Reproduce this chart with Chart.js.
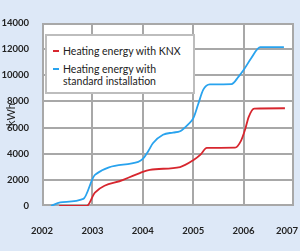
<!DOCTYPE html>
<html>
<head>
<meta charset="utf-8">
<script src="https://cdn.jsdelivr.net/npm/chart.js@4"></script>
<style>
  html, body { margin: 0; padding: 0; background: #dde8f7; }
  #wrap { position: relative; width: 300px; height: 251px; }
  #legend {
    position: absolute; left: 45px; top: 34px; width: 146px; height: 56px;
    background: #fff; border: 2px solid #bdbdbd;
    font: 10.5px Lato, sans-serif; color: #222; line-height: 12px;
  }
  .item { position: absolute; left: 16px; }
  .dash { position: absolute; left: -10px; top: 5px; width: 6px; height: 2px; }
</style>
</head>
<body>
<div id="wrap">
  <canvas id="chart" width="300" height="251"></canvas>
  <div id="legend"></div>
</div>
<script>
// years (decimal) and kWh for each series
var knxYears = [2002.34, 2002.89, 2003.05, 2003.61, 2003.94, 2004.14, 2004.74, 2005.0, 2005.15, 2005.27, 2005.83, 2005.95, 2006.03, 2006.1, 2006.21, 2006.82];
var knxValues = [0, 0, 1020, 2000, 2520, 2770, 2980, 3500, 3950, 4440, 4460, 5000, 5850, 6800, 7450, 7480];

var stdYears = [2002.18, 2002.36, 2002.82, 2003.05, 2003.91, 2004.0, 2004.11, 2004.2, 2004.4, 2004.6, 2004.74, 2004.9, 2005.0, 2005.1, 2005.2, 2005.33, 2005.76, 2005.9, 2006.0, 2006.15, 2006.33, 2006.8];
var stdValues = [0, 280, 540, 2380, 3380, 3600, 4200, 4800, 5450, 5620, 5720, 6250, 6700, 7800, 8900, 9300, 9320, 9900, 10400, 11300, 12150, 12150];

var seriesNames = [['Heating energy with KNX'], ['Heating energy with', 'standard installation']];
var seriesColors = ['#d7262e', '#29a3ee'];
var yearTicks = [2002, 2003, 2004, 2005, 2006, 2007];
var kwhTicks = [0, 2000, 4000, 6000, 8000, 10000, 12000, 14000];

var toPoints = function(xs, ys) {
  var pts = [];
  for (var i = 0; i < xs.length; i++) {
    pts.push({x: xs[i], y: ys[i]});
  }
  return pts;
};

var tickFont = {family: 'Lato', size: 9.5, weight: 'bold'};
var gridColor = 'rgb(168, 168, 168)';

new Chart(document.getElementById('chart').getContext('2d'), {
  type: 'line',
  data: {
    datasets: [
      {label: seriesNames[0].join(' '), data: toPoints(knxYears, knxValues), borderColor: seriesColors[0]},
      {label: seriesNames[1].join(' '), data: toPoints(stdYears, stdValues), borderColor: seriesColors[1]}
    ]
  },
  options: {
    responsive: false,
    animation: false,
    layout: {padding: {top: 23, right: 6, left: 0, bottom: 0}},
    elements: {
      point: {radius: 0},
      line: {borderWidth: 1.8, cubicInterpolationMode: 'monotone', fill: false}
    },
    plugins: {legend: {display: false}, tooltip: {enabled: false}},
    scales: {
      x: {
        type: 'linear', min: 2002, max: 2007,
        afterBuildTicks: function(scale) {
          scale.ticks = yearTicks.map(function(v) { return {value: v}; });
        },
        afterFit: function(scale) {
          scale.height = 45;
          scale.paddingLeft = 0;
          scale.paddingRight = 0;
        },
        grid: {display: false},
        border: {display: false},
        ticks: {
          color: '#222', font: tickFont, padding: 11, maxRotation: 0,
          callback: function(v) {
            return v === 2007 ? '2007\u00a0\u00a0\u00a0\u00a0\u00a0\u00a0' : String(v);
          }
        }
      },
      y: {
        min: 0, max: 14000,
        afterBuildTicks: function(scale) {
          scale.ticks = kwhTicks.map(function(v) { return {value: v}; });
        },
        afterFit: function(scale) { scale.width = 42; },
        grid: {display: false},
        border: {display: false},
        ticks: {
          color: '#222', font: tickFont, padding: 5,
          callback: function(v) { return String(v); }
        },
        title: {display: true, text: 'kWh', color: '#222', font: {family: 'Lato', size: 11}, padding: {top: 5, bottom: 0}}
      }
    }
  },
  plugins: [{
    id: 'plotBackground',
    beforeDatasetsDraw: function(chart) {
      var a = chart.chartArea, ctx = chart.ctx;
      var xs = chart.scales.x, ys = chart.scales.y;
      var left = Math.round(a.left), right = Math.round(a.right);
      var top = Math.round(a.top), bottom = Math.round(a.bottom);
      ctx.save();
      ctx.globalCompositeOperation = 'source-over';
      ctx.globalAlpha = 1;
      ctx.fillStyle = '#ffffff';
      ctx.fillRect(left, top, right - left, bottom - top);
      ctx.fillStyle = gridColor;
      // 2px wide grid lines so they survive the screenshot
      yearTicks.forEach(function(v) {
        var px = Math.round(xs.getPixelForValue(v));
        px = Math.max(left, Math.min(px - 1, right - 2));
        ctx.fillRect(px, top, 2, bottom - top);
      });
      kwhTicks.forEach(function(v) {
        var py = Math.round(ys.getPixelForValue(v));
        py = Math.max(top, Math.min(py - 1, bottom - 2));
        ctx.fillRect(left, py, right - left, 2);
      });
      ctx.restore();
    }
  }]
});

var legend = document.getElementById('legend');
var tops = [9, 27];
for (var i = 0; i < seriesNames.length; i++) {
  var item = document.createElement('div');
  item.className = 'item';
  item.style.top = tops[i] + 'px';
  item.innerHTML = '<span class="dash" style="background:' + seriesColors[i] + '"></span>' + seriesNames[i].join('<br>');
  legend.appendChild(item);
}
</script>
</body>
</html>
